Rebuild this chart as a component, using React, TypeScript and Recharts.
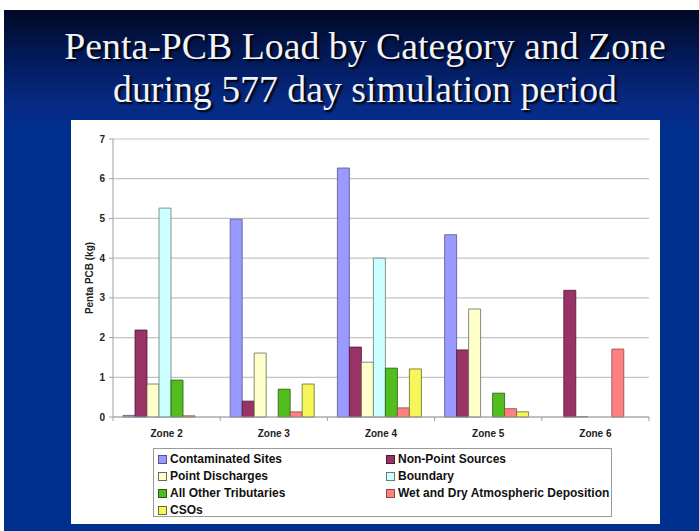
import React from 'react';
import { BarChart, Bar, XAxis, YAxis, CartesianGrid } from 'recharts';

const zones = ['Zone 2', 'Zone 3', 'Zone 4', 'Zone 5', 'Zone 6'];
const contaminatedSites = [0.04, 4.98, 6.27, 4.59, 0];
const nonPointSources = [2.19, 0.4, 1.76, 1.69, 3.19];
const pointDischarges = [0.83, 1.61, 1.38, 2.72, 0.01];
const boundary = [5.26, 0, 4.0, 0, 0];
const otherTributaries = [0.93, 0.7, 1.23, 0.6, 0];
const atmosphericDeposition = [0.03, 0.13, 0.23, 0.21, 1.71];
const csos = [0, 0.83, 1.21, 0.13, 0];
const yTicks = [0, 1, 2, 3, 4, 5, 6, 7];

const series = [
  { key: 'cs', name: 'Contaminated Sites', values: contaminatedSites, color: '#9999ff', stroke: '#55558a' },
  { key: 'nps', name: 'Non-Point Sources', values: nonPointSources, color: '#993366', stroke: '#4a1a33' },
  { key: 'pd', name: 'Point Discharges', values: pointDischarges, color: '#ffffcc', stroke: '#6a6a5a' },
  { key: 'bd', name: 'Boundary', values: boundary, color: '#ccffff', stroke: '#6a7a7a' },
  { key: 'trib', name: 'All Other Tributaries', values: otherTributaries, color: '#52be1e', stroke: '#2a5a10' },
  { key: 'atm', name: 'Wet and Dry Atmospheric Deposition', values: atmosphericDeposition, color: '#ff8080', stroke: '#8a4a4a' },
  { key: 'cso', name: 'CSOs', values: csos, color: '#f6f65a', stroke: '#6a6a2a' },
];

const data = zones.map((z, i) => {
  const row: any = { zone: z };
  series.forEach((s) => {
    row[s.key] = s.values[i];
  });
  return row;
});

const FONT = '"Liberation Sans", Arial, sans-serif';

const ZoneTick = (props: any) => {
  const { x, y, payload, index } = props;
  const off = payload && payload.offset ? payload.offset : 53.6;
  return (
    <g>
      <line x1={x - off} y1={y} x2={x - off} y2={y + 4} stroke="#a0a0a0" />
      {index === zones.length - 1 && (
        <line x1={x + off} y1={y} x2={x + off} y2={y + 4} stroke="#a0a0a0" />
      )}
      <text x={x} y={y + 19.5} textAnchor="middle" fontFamily={FONT} fontWeight="bold" fontSize={10} fill="#222">
        {payload.value}
      </text>
    </g>
  );
};

const LegendBox = () => {
  return (
    <div
      style={{
        position: 'absolute',
        left: 82,
        top: 328,
        width: 459,
        height: 69,
        boxSizing: 'border-box',
        border: '1px solid #9a9a9a',
        fontFamily: FONT,
        fontWeight: 'bold',
        fontSize: 12,
        color: '#111',
        background: '#fff',
      }}
    >
      {series.map((s, i) => {
        const col = i % 2;
        const row = Math.floor(i / 2);
        return (
          <div
            key={s.key}
            style={{
              position: 'absolute',
              left: col === 0 ? 4 : 232,
              top: 1.5 + row * 17.2,
              height: 17,
              lineHeight: '17px',
              whiteSpace: 'nowrap',
              display: 'flex',
              alignItems: 'center',
            }}
          >
            <span
              style={{
                display: 'inline-block',
                width: 7,
                height: 7,
                background: s.color,
                border: '1px solid ' + s.stroke,
                marginRight: 3,
              }}
            />
            <span>{s.name}</span>
          </div>
        );
      })}
    </div>
  );
};

export default function App() {
  return (
    <div
      style={{
        position: 'absolute',
        left: 0,
        top: 0,
        width: 699,
        height: 531,
        background: '#ffffff',
        overflow: 'hidden',
      }}
    >
      <div
        style={{
          position: 'absolute',
          left: 4,
          top: 10,
          width: 695,
          height: 521,
          background:
            'linear-gradient(180deg, #010925 0px, #031b5c 50px, #072a85 95px, #00308f 125px, #00308f 100%)',
        }}
      />
      <div
        style={{
          position: 'absolute',
          left: 15,
          top: 25,
          width: 700,
          textAlign: 'center',
          fontFamily: '"Liberation Serif", "Times New Roman", serif',
          fontSize: 37.8,
          lineHeight: '43px',
          color: '#f2f2fa',
          whiteSpace: 'nowrap',
          textShadow: '2px 2px 2px #000000',
        }}
      >
        <div>Penta-PCB Load by Category and Zone</div>
        <div>during 577 day simulation period</div>
      </div>
      <div
        style={{
          position: 'absolute',
          left: 71,
          top: 120,
          width: 589,
          height: 404,
          background: '#ffffff',
        }}
      >
        <BarChart
          width={589}
          height={404}
          data={data}
          margin={{ top: 19, right: 11, left: 0, bottom: 87 }}
          barCategoryGap={10}
          barGap={0}
        >
          <CartesianGrid vertical={false} stroke="#c4c4c4" strokeWidth={1.2} />
          <XAxis
            dataKey="zone"
            height={20}
            tickSize={0}
            tickMargin={0}
            tickLine={false}
            axisLine={{ stroke: '#a0a0a0' }}
            tick={<ZoneTick />}
            interval={0}
          />
          <YAxis
            width={42}
            domain={[0, 7]}
            ticks={yTicks}
            interval={0}
            tickSize={4}
            tickMargin={4}
            tickLine={{ stroke: '#a0a0a0' }}
            axisLine={{ stroke: '#a0a0a0' }}
            tick={{ fontFamily: FONT, fontWeight: 'bold', fontSize: 10, fill: '#222' }}
            label={{
              value: 'Penta PCB (kg)',
              angle: -90,
              position: 'insideLeft',
              offset: 18,
              style: { fontFamily: FONT, fontWeight: 'bold', fontSize: 10, fill: '#222', textAnchor: 'middle' },
            }}
          />
          <YAxis
            yAxisId="r"
            orientation="right"
            width={0}
            domain={[0, 7]}
            tick={false}
            tickLine={false}
            axisLine={{ stroke: '#b4b4b4' }}
          />
          {series.map((s) => (
            <Bar
              key={s.key}
              dataKey={s.key}
              name={s.name}
              fill={s.color}
              stroke={s.stroke}
              strokeWidth={0.8}
              isAnimationActive={false}
            />
          ))}
        </BarChart>
        <LegendBox />
      </div>
    </div>
  );
}
